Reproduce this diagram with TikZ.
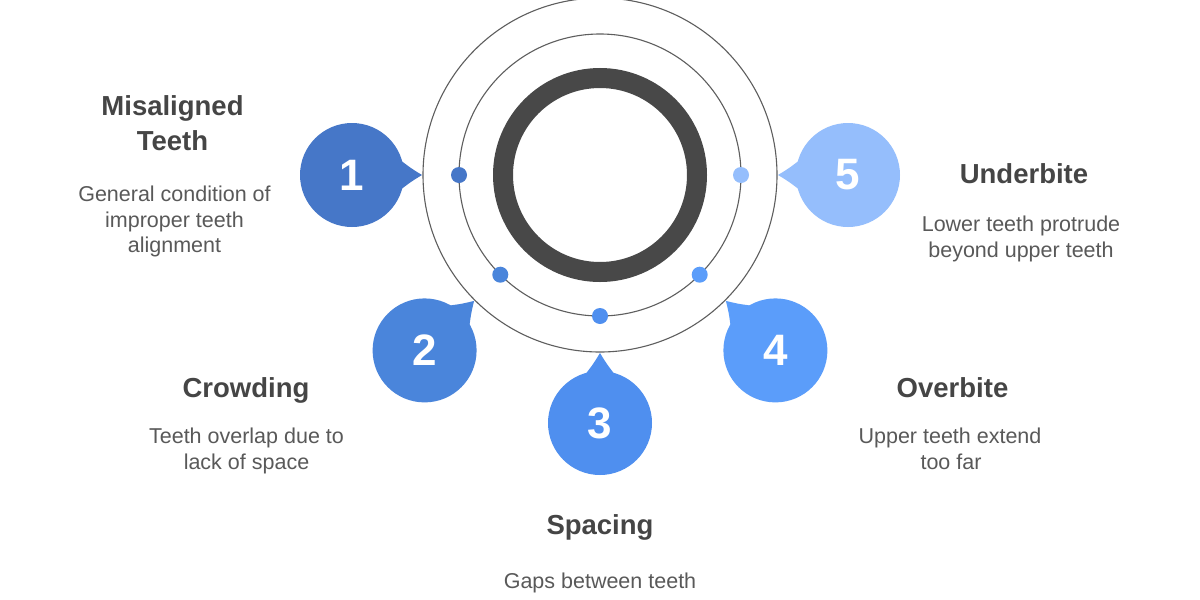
\documentclass[tikz,border=0pt]{standalone}
\usepackage{fontspec}
\setmainfont{Liberation Sans}
\usetikzlibrary{calc}
\definecolor{cone}{HTML}{4677C8}
\definecolor{ctwo}{HTML}{4A85DB}
\definecolor{cthree}{HTML}{4F8FEF}
\definecolor{cfour}{HTML}{5B9DFA}
\definecolor{cfive}{HTML}{95BEFC}
\definecolor{ringdark}{HTML}{484848}
\definecolor{ringgray}{HTML}{5E5E5E}
\definecolor{titlegray}{HTML}{454545}
\definecolor{descgray}{HTML}{595959}
\begin{document}
\begin{tikzpicture}[x=1pt,y=-1pt,
 bubble/.style={circle,inner sep=0pt,minimum size=104pt,text=white,font=\fontsize{44}{44}\selectfont\bfseries},
 dotn/.style={circle,inner sep=0pt,minimum size=16pt},
 ttl/.style={anchor=base,inner sep=0pt,text=titlegray,font=\fontsize{27.5}{30}\selectfont\bfseries},
 dsc/.style={anchor=base,inner sep=0pt,text=descgray,font=\fontsize{21.5}{24}\selectfont},
 thinring/.style={draw=ringgray,line width=1.1pt}]
\useasboundingbox[fill=white] (0,0) rectangle (1200,600);
\coordinate (o) at (600,175);
\draw[thinring] (o) circle (177pt);
\draw[thinring] (o) circle (141pt);
\draw[ringdark,line width=20pt] (o) circle (97pt);
% bubbles
\node[bubble,fill=cone] (b1) at (352,175) {1};
\node[bubble,fill=ctwo] (b2) at (424.6,350.4) {2};
\node[bubble,fill=cthree] (b3) at (600,423) {3};
\node[bubble,fill=cfour] (b4) at (775.4,350.4) {4};
\node[bubble,fill=cfive] (b5) at (848,175) {5};
\foreach \b/\c in {b1/cone,b2/ctwo,b3/cthree,b4/cfour,b5/cfive}{
  \fill[\c] ($(\b)!50pt!-18:(o)$) .. controls ($(\b)!60pt!-6:(o)$) .. ($(\b)!70pt!(o)$)
     .. controls ($(\b)!60pt!6:(o)$) .. ($(\b)!50pt!18:(o)$) -- cycle;
}
% dots
\node[dotn,fill=cone] (d1) at ($(o)!141pt!(b1)$) {};
\node[dotn,fill=ctwo] (d2) at ($(o)!141pt!(b2)$) {};
\node[dotn,fill=cthree] (d3) at ($(o)!141pt!(b3)$) {};
\node[dotn,fill=cfour] (d4) at ($(o)!141pt!(b4)$) {};
\node[dotn,fill=cfive] (d5) at ($(o)!141pt!(b5)$) {};
% texts 1
\node[ttl] (t1a) at (172.5,115) {Misaligned};
\node[ttl] (t1b) at (172.5,150) {Teeth};
\node[dsc] (s1a) at (174.5,201.5) {General condition of};
\node[dsc] (s1b) at (174.5,227) {improper teeth};
\node[dsc] (s1c) at (174.5,252.5) {alignment};
% texts 5
\node[ttl] (t5a) at (1024,183) {Underbite};
\node[dsc] (s5a) at (1021,231) {Lower teeth protrude};
\node[dsc] (s5b) at (1021,257) {beyond upper teeth};
% texts 2
\node[ttl] (t2a) at (246,397) {Crowding};
\node[dsc] (s2a) at (246.5,443) {Teeth overlap due to};
\node[dsc] (s2b) at (246.5,469) {lack of space};
% texts 4
\node[ttl] (t4a) at (952.5,397) {Overbite};
\node[dsc] (s4a) at (950,443) {Upper teeth extend};
\node[dsc] (s4b) at (951,469) {too far};
% texts 3
\node[ttl] (t3a) at (600,534) {Spacing};
\node[dsc] (s3a) at (600,588) {Gaps between teeth};
\end{tikzpicture}
\end{document}
